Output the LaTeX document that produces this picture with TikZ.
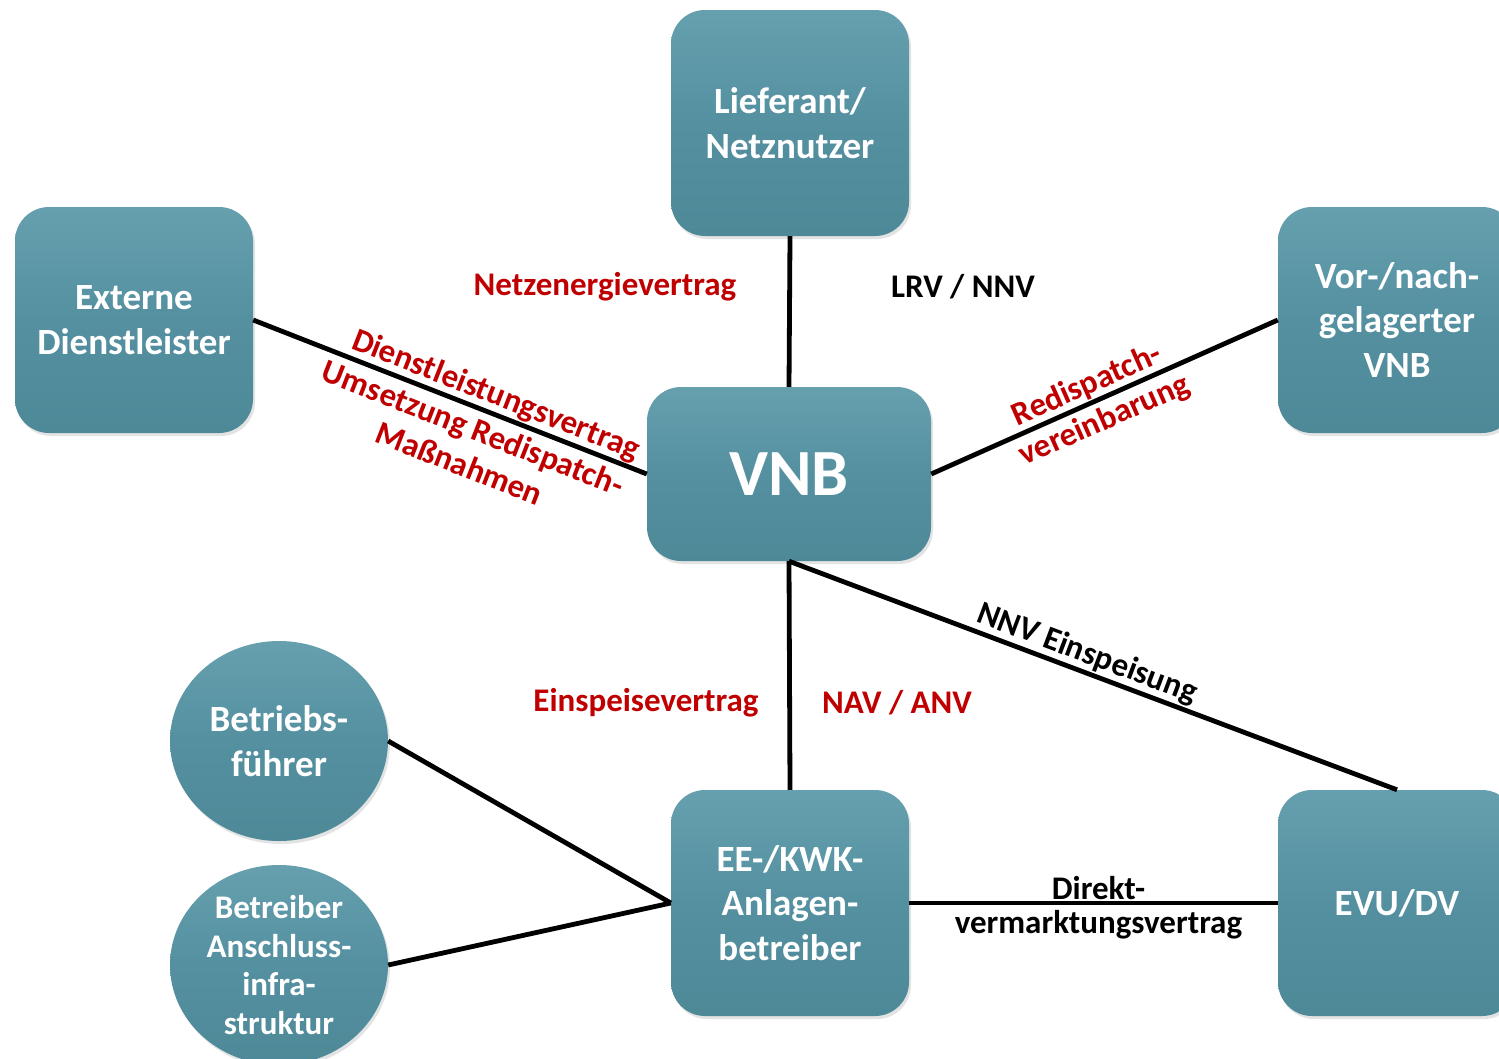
\documentclass[tikz,border=0pt]{standalone}
\usepackage{fontspec}
\setmainfont{Carlito}
\usetikzlibrary{shapes.geometric,shadows}
\definecolor{tealtop}{RGB}{102,160,175}
\definecolor{tealmid}{RGB}{84,144,160}
\definecolor{tealbot}{RGB}{78,137,152}
\definecolor{lblred}{RGB}{192,0,0}
\tikzset{
  ent/.style={rounded corners=34pt, top color=tealtop, bottom color=tealbot, middle color=tealmid,
    text=white, font=\bfseries\fontsize{37}{44.5}\selectfont, align=center, inner sep=0pt,
    drop shadow={opacity=0.22, shadow xshift=2pt, shadow yshift=-3pt}},
  entbox/.style={ent, rectangle, minimum width=238pt, minimum height=226pt},
  entcirc/.style={ent, ellipse, rounded corners=0pt, minimum width=218pt, minimum height=200pt},
  conn/.style={line width=4.8pt, black},
  lbl/.style={font=\bfseries\fontsize{33}{38}\selectfont, align=center, inner sep=2pt},
  redlbl/.style={lbl, text=lblred},
  blklbl/.style={lbl, text=black},
}
\begin{document}
\begin{tikzpicture}[x=1pt,y=-1pt]
\useasboundingbox (0,0) rectangle (1499,1058);
\clip (0,0) rectangle (1499,1058);
\fill[white] (0,0) rectangle (1499,1058);
% nodes
\node[entbox] (lief) at (790,123) {Lieferant/\\Netznutzer};
\node[entbox] (ext) at (134,320) {Externe\\Dienstleister};
\node[entbox] (vor) at (1397,320) {Vor-/nach-\\gelagerter\\VNB};
\node[entbox, minimum width=284pt, minimum height=174pt, font=\bfseries\fontsize{66}{70}\selectfont] (vnb) at (789,474) {VNB};
\node[entbox] (ee) at (790,903) {EE-/KWK-\\Anlagen-\\betreiber};
\node[entbox] (evu) at (1397,903) {EVU/DV};
\node[entcirc] (bf) at (279,741) {Betriebs-\\führer};
\node[entcirc, font=\bfseries\fontsize{33}{38.5}\selectfont] (bai) at (279,965) {Betreiber\\Anschluss-\\infra-\\struktur};
% connectors
\draw[conn] (lief.south) -- (vnb.north);
\draw[conn] (ext.east) -- node[pos=0.6, sloped, above, redlbl, inner sep=1pt] (dlv) {Dienstleistungsvertrag}
  node[pos=0.578, sloped, below, redlbl, inner sep=6pt] (urm) {Umsetzung Redispatch-\\Maßnahmen} (vnb.west);
\draw[conn] (vnb.east) -- node[pos=0.47, sloped, above, redlbl, inner sep=1pt] (rdv1) {Redispatch-}
  node[pos=0.475, sloped, below, redlbl, inner sep=5pt] (rdv2) {vereinbarung} (vor.west);
\draw[conn] (vnb.south) -- (ee.north);
\draw[conn] (vnb.south) -- node[pos=0.48, sloped, above, blklbl, inner sep=1pt] (nnve) {NNV Einspeisung} (evu.north);
\draw[conn] (bf.east) -- (ee.west);
\draw[conn] (bai.east) -- (ee.west);
\draw[conn] (ee.east) -- node[pos=0.5, above, blklbl, inner sep=1pt, xshift=5pt] (dir1) {Direkt-}
  node[pos=0.5, below, blklbl, inner sep=5pt, xshift=5pt] (dir2) {vermarktungsvertrag} (evu.west);
% free labels
\node[redlbl] (nev) at (605,287) {Netzenergievertrag};
\node[blklbl] (lrv) at (963,287) {LRV / NNV};
\node[redlbl] (esv) at (646,703) {Einspeisevertrag};
\node[redlbl] (nav) at (897,703) {NAV / ANV};
\end{tikzpicture}
\end{document}
